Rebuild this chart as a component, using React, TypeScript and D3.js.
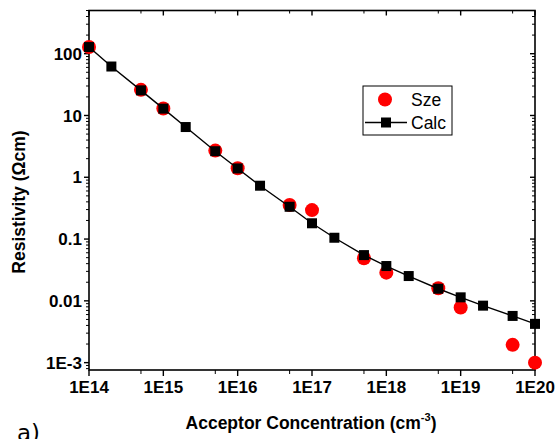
import React from "react";
import * as d3 from "d3";

const calcX = [1e14, 2e14, 5e14, 1e15, 2e15, 5e15, 1e16, 2e16, 5e16, 1e17, 2e17, 5e17, 1e18, 2e18, 5e18, 1e19, 2e19, 5e19, 1e20];
const calcY = [128, 62, 25.5, 12.9, 6.5, 2.64, 1.39, 0.73, 0.333, 0.18, 0.105, 0.055, 0.0366, 0.0252, 0.0157, 0.0114, 0.00836, 0.0057, 0.00424];
const szeX = [1e14, 5e14, 1e15, 5e15, 1e16, 5e16, 1e17, 5e17, 1e18, 5e18, 1e19, 5e19, 1e20];
const szeY = [128, 26, 13, 2.7, 1.4, 0.355, 0.294, 0.049, 0.0286, 0.016, 0.0078, 0.00194, 0.001];

const xTickVals = [1e14, 1e15, 1e16, 1e17, 1e18, 1e19, 1e20];
const xTickLabels = ["1E14", "1E15", "1E16", "1E17", "1E18", "1E19", "1E20"];
const yTickVals = [100, 10, 1, 0.1, 0.01, 0.001];
const yTickLabels = ["100", "10", "1", "0.1", "0.01", "1E-3"];

const W = 558, H = 439;
const L = 89, R = 535, T = 10.5, B = 370;
const FONT = "'Liberation Sans', Arial, sans-serif";

export default function App() {
  const x = d3.scaleLog().domain([1e14, 1e20]).range([L, R]);
  const y = d3.scaleLog().domain([7.6e-4, 500]).range([B, T]);

  const xMinor: number[] = [];
  for (let e = 14; e < 20; e++) xMinor.push(5 * Math.pow(10, e));
  const yMinor: number[] = [];
  for (let e = -4; e <= 2; e++) {
    for (let m = 2; m <= 9; m++) {
      const v = m * Math.pow(10, e);
      if (v >= 7.6e-4 && v <= 500) yMinor.push(v);
    }
  }

  const line = d3
    .line<number>()
    .x((_, i) => x(calcX[i]))
    .y((d) => y(d));

  const sq = 10;
  const ts = 17;

  return (
    <svg width={W} height={H} style={{ position: "absolute", left: 0, top: 0, background: "#fff" }}>
      <rect x={0} y={0} width={W} height={H} fill="#fff" />
      <rect x={L} y={T} width={R - L} height={B - T} fill="none" stroke="#000" strokeWidth={1.6} />

      {yTickVals.map((v) => (
        <g key={"ym" + v}>
          <line x1={L - 5} x2={L} y1={y(v)} y2={y(v)} stroke="#000" strokeWidth={1.4} />
          <line x1={R} x2={R - 5} y1={y(v)} y2={y(v)} stroke="#000" strokeWidth={1.4} />
        </g>
      ))}
      {yMinor.map((v) => (
        <g key={"yn" + v}>
          <line x1={L - 3} x2={L} y1={y(v)} y2={y(v)} stroke="#000" strokeWidth={1} />
          <line x1={R} x2={R - 3} y1={y(v)} y2={y(v)} stroke="#000" strokeWidth={1} />
        </g>
      ))}
      {xTickVals.map((v) => (
        <g key={"xm" + v}>
          <line x1={x(v)} x2={x(v)} y1={B} y2={B + 6} stroke="#000" strokeWidth={1.4} />
          <line x1={x(v)} x2={x(v)} y1={T} y2={T + 5} stroke="#000" strokeWidth={1.4} />
        </g>
      ))}
      {xMinor.map((v) => (
        <g key={"xn" + v}>
          <line x1={x(v)} x2={x(v)} y1={B} y2={B + 4} stroke="#000" strokeWidth={1} />
          <line x1={x(v)} x2={x(v)} y1={T} y2={T + 3} stroke="#000" strokeWidth={1} />
        </g>
      ))}

      {yTickVals.map((v, i) => (
        <text key={"yl" + v} x={L - 7} y={y(v)} dy="0.36em" textAnchor="end" fontFamily={FONT} fontWeight="bold" fontSize={ts}>
          {yTickLabels[i]}
        </text>
      ))}
      {xTickVals.map((v, i) => (
        <text key={"xl" + v} x={x(v)} y={393} textAnchor="middle" fontFamily={FONT} fontWeight="bold" fontSize={ts}>
          {xTickLabels[i]}
        </text>
      ))}

      <text x={311} y={429} textAnchor="middle" fontFamily={FONT} fontWeight="bold" fontSize={17.5}>
        Acceptor Concentration (cm
        <tspan fontSize={11} dy={-8}>-3</tspan>
        <tspan dy={8}>)</tspan>
      </text>
      <text
        transform={`translate(25,${202}) rotate(-90)`}
        textAnchor="middle"
        fontFamily={FONT}
        fontWeight="bold"
        fontSize={17.5}
      >
        Resistivity (Ωcm)
      </text>

      {szeY.map((v, i) => (
        <circle key={"s" + i} cx={x(szeX[i])} cy={y(v)} r={7} fill="#ff0000" />
      ))}
      <path d={line(calcY) || ""} fill="none" stroke="#000" strokeWidth={1.4} />
      {calcY.map((v, i) => (
        <rect key={"c" + i} x={x(calcX[i]) - sq / 2} y={y(v) - sq / 2} width={sq} height={sq} fill="#000" />
      ))}

      <rect x={363} y={86} width={89} height={49} fill="#fff" stroke="#000" strokeWidth={1} />
      <circle cx={385} cy={99.5} r={7} fill="#ff0000" />
      <text x={411} y={105.5} fontFamily={FONT} fontSize={17.5}>Sze</text>
      <line x1={365} x2={407} y1={122.5} y2={122.5} stroke="#000" strokeWidth={1.5} />
      <rect x={386 - sq / 2} y={122.5 - sq / 2} width={sq} height={sq} fill="#000" />
      <text x={411} y={128.5} fontFamily={FONT} fontSize={17.5}>Calc</text>

      <text x={17} y={441} fontFamily="'DejaVu Sans', sans-serif" fontSize={23}>a)</text>
    </svg>
  );
}
